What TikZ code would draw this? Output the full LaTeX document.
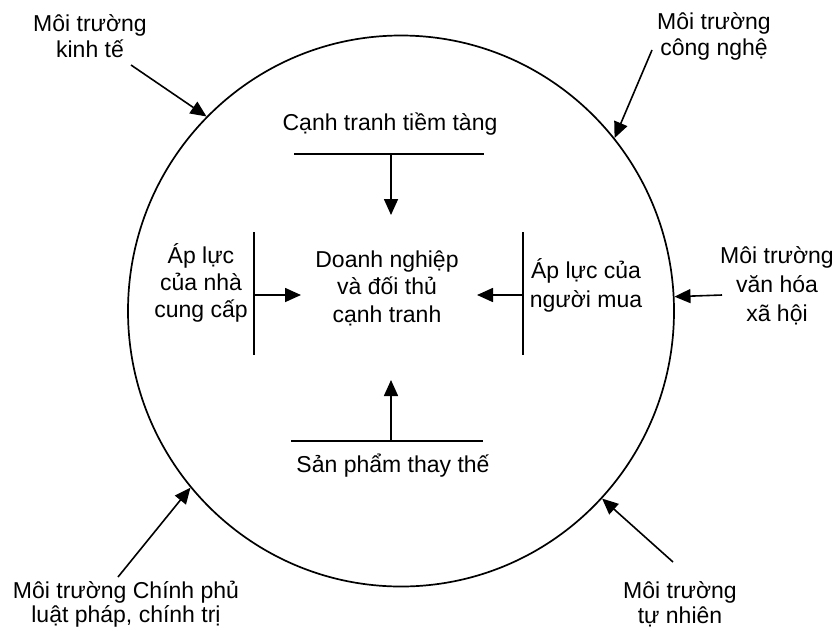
\documentclass[tikz,border=0pt]{standalone}
\usepackage{fontspec}
\setmainfont{Liberation Sans}
\usetikzlibrary{arrows.meta,shapes.geometric}
\begin{document}
% multi-line labels are placed by the baseline of their last line
\begin{tikzpicture}[x=1pt,y=-1pt,
  every node/.style={font=\fontsize{23}{26}\selectfont, inner sep=0pt, align=center},
  force/.style={line width=1.6pt, -{Triangle[length=16pt,width=14pt]}},
  bar/.style={line width=1.6pt}]
\useasboundingbox (0,0) rectangle (834,630);

% outer environment
\node[draw, line width=1.7pt, ellipse, minimum width=546pt, minimum height=551pt] (env) at (401,311) {};

% environment labels
\node[anchor=base] (econ) at (90,57) {Môi trường\\kinh tế};
\node[anchor=base] (tech) at (714,55) {Môi trường\\công nghệ};
\node[anchor=base, font=\fontsize{23}{29}\selectfont] (cult) at (777,321) {Môi trường\\văn hóa\\xã hội};
\node[anchor=base, font=\fontsize{23}{25}\selectfont] (nat) at (680,623) {Môi trường\\tự nhiên};
\node[anchor=base, font=\fontsize{23}{24}\selectfont] (gov) at (126,622) {Môi trường Chính phủ\\luật pháp, chính trị};

% tails of the environment arrows
\coordinate (econT) at (131,65);
\coordinate (techT) at (652,50);
\coordinate (cultT) at (722,295);
\coordinate (natT) at (673,562);
\coordinate (govT) at (118,577);

\draw[force] (econT) -- (env.135.7);
\draw[force] (techT) -- (env.39.5);
\draw[force] (cultT) -- (env.3.3);
\draw[force] (natT) -- (env.-43.7);
\draw[force] (govT) -- (env.220);

% competitive forces
\node[anchor=base] (pot) at (390,130) {Cạnh tranh tiềm tàng};
\node[anchor=base] (sub) at (393,472) {Sản phẩm thay thế};
\node[anchor=base, font=\fontsize{23}{27}\selectfont] (sup) at (201,317) {Áp lực\\của nhà\\cung cấp};
\node[anchor=base, font=\fontsize{23}{27.5}\selectfont] (firm) at (387,322) {Doanh nghiệp\\và đối thủ\\cạnh tranh};
\node[anchor=base, font=\fontsize{23}{29}\selectfont] (buy) at (586,307) {Áp lực của\\người mua};

% bars
\coordinate (potL) at (294,154); \coordinate (potR) at (484,154); \coordinate (potM) at (391,154);
\coordinate (subL) at (291,441); \coordinate (subR) at (483,441); \coordinate (subM) at (391,441);
\coordinate (supT) at (254,232); \coordinate (supB) at (254,355); \coordinate (supM) at (254,295);
\coordinate (buyT) at (523,232); \coordinate (buyB) at (523,355); \coordinate (buyM) at (523,295);
\draw[bar] (potL) -- (potR);
\draw[bar] (subL) -- (subR);
\draw[bar] (supT) -- (supB);
\draw[bar] (buyT) -- (buyB);

% arrow heads toward the firm
\coordinate (firmN) at (391,215);
\coordinate (firmS) at (391,380);
\coordinate (firmW) at (301,295);
\coordinate (firmE) at (477,295);
\draw[force] (potM) -- (firmN);
\draw[force] (subM) -- (firmS);
\draw[force] (supM) -- (firmW);
\draw[force] (buyM) -- (firmE);
\end{tikzpicture}
\end{document}
